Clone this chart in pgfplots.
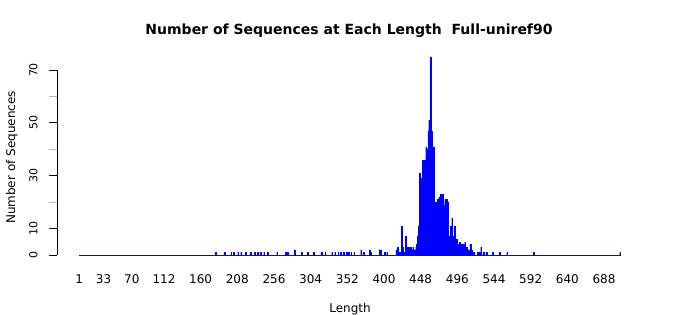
\documentclass[border=0pt]{standalone}
\usepackage{fontspec}
\setmainfont{DejaVu Sans}
\usepackage{pgfplots}
\usepackage{pgfplotstable}
\pgfplotsset{compat=1.18}
\pgfplotstableread{
L C
180 1
191 1
200 1
203 1
209 1
213 1
219 1
225 1
231 1
235 1
238 1
243 1
248 1
260 1
271 1
274 1
283 2
292 1
300 1
308 1
318 1
323 1
332 1
336 1
340 1
343 1
347 1
351 1
354 1
357 1
361 1
370 2
373 1
381 2
383 1
394 2
396 2
401 1
404 1
416 2
418 3
420 1
423 11
424 3
426 1
428 7
429 2
430 2
431 3
432 1
433 3
434 2
435 3
436 1
437 2
438 3
439 1
440 2
441 2
442 3
443 4
444 7
445 11
446 10
447 31
448 23
449 29
450 28
451 36
452 30
453 36
454 34
455 41
456 40
457 40
458 47
459 51
460 40
461 75
462 47
463 18
464 22
465 41
466 20
467 19
468 20
469 17
470 21
471 18
472 22
473 16
474 23
475 16
476 12
477 23
478 19
479 4
480 21
481 18
482 21
483 20
484 9
485 7
486 5
487 11
488 6
489 14
490 7
491 4
492 11
493 3
494 6
495 6
496 3
497 4
498 2
499 5
500 3
501 3
502 4
503 2
504 4
505 2
506 5
507 3
508 3
509 2
510 1
511 2
512 1
513 4
514 1
515 2
517 1
523 1
524 1
526 1
527 3
530 1
534 1
542 1
551 1
561 1
596 1
709 1
}\lengthdata
\begin{document}
\begin{tikzpicture}
\path[use as bounding box] (0,0) rectangle (700pt,315pt);
\begin{axis}[
  at={(57pt,60pt)}, anchor=south west,
  scale only axis, width=586pt, height=185pt,
  xmin=-28, xmax=739, ymin=0, ymax=70,
  clip=false,
  axis lines*=left,
  x axis line style={draw=none},
  y axis line style={black, line width=0.8pt},
  tick align=outside,
  major tick length=8pt,
  xtick={1,33,70,112,160,208,256,304,352,400,448,496,544,592,640,688},
  xtick style={draw=none},
  ytick={0,10,30,50,70},
  ytick style={black, line width=0.8pt},
  extra y ticks={20,40,60},
  extra y tick labels={},
  extra y tick style={ytick style={draw=gray!55, line width=0.8pt}},
  /pgf/number format/assume math mode=true,
  xticklabel style={font=\fontsize{12}{14}\selectfont, anchor=center, inner sep=0pt, yshift=-16pt},
  yticklabel style={font=\fontsize{11}{13}\selectfont, xshift=-11.7pt, rotate=90, anchor=base, inner sep=0pt},
]
\addplot[blue, line width=0.8pt] coordinates {(0.5,0) (709.5,0)};
\addplot[ybar, bar width=1, fill=blue, draw=blue, line width=0.2pt] table[x=L, y=C] {\lengthdata};
\end{axis}
\node[anchor=base, font=\bfseries\fontsize{14}{16}\selectfont] at (349pt,280pt) {Number of Sequences at Each Length~~Full-uniref90};
\node[anchor=base, font=\fontsize{12}{14}\selectfont] at (350pt,2.8pt) {Length};
\node[anchor=base, rotate=90, font=\fontsize{12}{14}\selectfont] at (15pt,157.5pt) {Number of Sequences};
\end{tikzpicture}
\end{document}
